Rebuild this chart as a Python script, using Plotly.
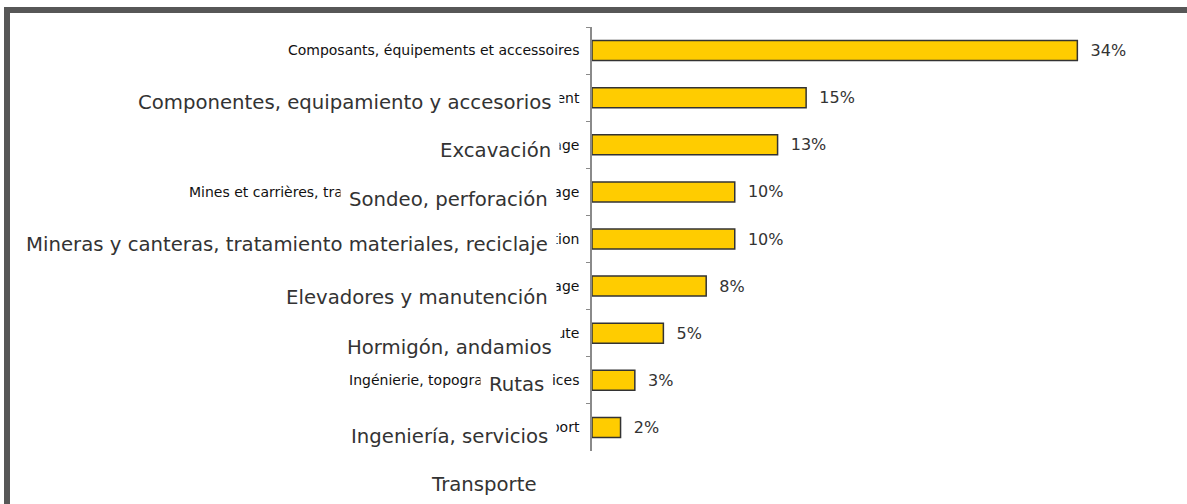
import plotly.graph_objects as go

# ---- data ----
categories_fr = [
    "Composants, équipements et accessoires",
    "Terrassement",
    "Forage",
    "Mines et carrières, traitement des matériaux, recyclage",
    "Levage et manutention",
    "Béton, échafaudage",
    "Route",
    "Ingénierie, topographie, services",
    "Transport",
]
values = [34, 15, 13, 10, 10, 8, 5, 3, 2]
labels_es = [
    "Componentes, equipamiento y accesorios",
    "Excavación",
    "Sondeo, perforación",
    "Mineras y canteras, tratamiento materiales, reciclaje",
    "Elevadores y manutención",
    "Hormigón, andamios",
    "Rutas",
    "Ingeniería, servicios",
    "Transporte",
]

# ---- layout constants (pixels) ----
W, H = 1187, 504
L, R, T, B = 592, 24, 27, 53
PW, PH = W - L - R, H - T - B
BAND = PH / len(categories_fr)
NUDGE_PX = [5, 6, 8, 5, 11, 14, 4, 9, 10]
RIGHT_PX = [552, 552, 549, 549, 549, 553, 545, 549, 538]
PAD = 8


def px_x(p):
    return (p - L) / PW


def px_y(p):
    return (H - B - p) / PH


fig = go.Figure()
fig.add_trace(go.Bar(
    y=categories_fr,
    x=values,
    orientation="h",
    marker=dict(color="#FFCC00", line=dict(color="#333333", width=1.5)),
    texttemplate="\u00a0\u00a0%{x}%",
    textposition="outside",
    textfont=dict(family="DejaVu Sans", size=16, color="#333333"),
    cliponaxis=False,
    hoverinfo="skip",
))

annotations = []
for k, lab in enumerate(labels_es):
    row = k + 1
    ycen = T + BAND * (row + 0.5) + NUDGE_PX[k]
    annotations.append(dict(
        x=px_x(RIGHT_PX[k] + PAD), y=px_y(ycen), xref="paper", yref="paper",
        text=lab, showarrow=False, xanchor="right", yanchor="middle",
        font=dict(family="DejaVu Sans", size=19.7, color="#333333"),
        bgcolor="white", borderpad=PAD,
    ))

shapes = [
    dict(type="rect", xref="paper", yref="paper",
         x0=px_x(4), x1=px_x(W + 2), y0=px_y(13), y1=px_y(7),
         fillcolor="#575757", line=dict(width=0), layer="above"),
    dict(type="rect", xref="paper", yref="paper",
         x0=px_x(4), x1=px_x(10), y0=px_y(H + 2), y1=px_y(7),
         fillcolor="#575757", line=dict(width=0), layer="above"),
]

fig.update_layout(
    width=W, height=H,
    margin=dict(l=L, r=R, t=T, b=B, pad=0),
    paper_bgcolor="white", plot_bgcolor="white",
    showlegend=False,
    bargap=0.575,
    xaxis=dict(range=[0, 40], visible=False, fixedrange=True),
    yaxis=dict(
        autorange="reversed", showline=True, linecolor="#8a8a8a", linewidth=1.5,
        ticks="outside", ticklen=4, tickcolor="#8a8a8a", tickson="boundaries",
        tickfont=dict(family="DejaVu Sans", size=14, color="#111111"),
        ticklabelstandoff=8, showgrid=False, zeroline=False, fixedrange=True,
    ),
    annotations=annotations,
    shapes=shapes,
)

fig.write_html(
    "out.html",
    config={"displayModeBar": False},
    post_script="document.body.style.margin='0';document.body.style.overflow='hidden';",
)
